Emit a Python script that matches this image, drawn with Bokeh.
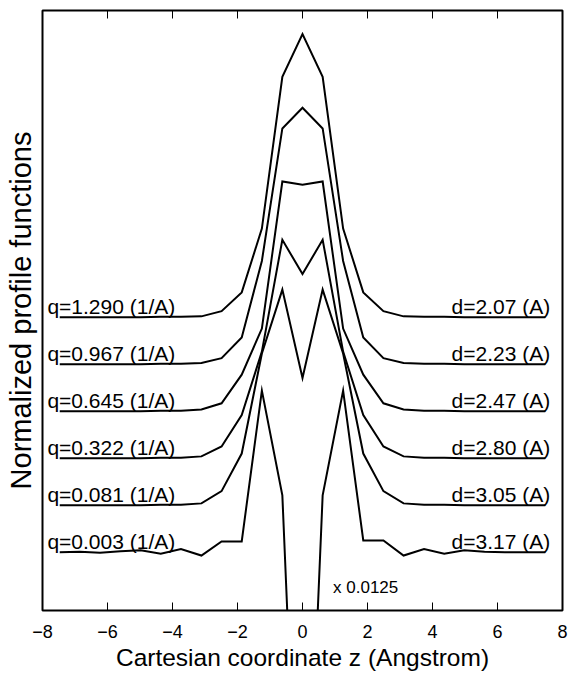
from bokeh.plotting import figure
from bokeh.models import Range1d, LinearAxis, FixedTicker
from bokeh.core.properties import value
from bokeh.embed import file_html
from bokeh.resources import INLINE

# Cartesian coordinate z (Angstrom) of the sampled points
z = [-7.47, -6.85, -6.23, -5.60, -4.98, -4.36, -3.74, -3.11, -2.49, -1.87, -1.25, -0.62,
     0.0, 0.62, 1.25, 1.87, 2.49, 3.11, 3.74, 4.36, 4.98, 5.60, 6.23, 6.85, 7.47]

x_ticks = [-8, -6, -4, -2, 0, 2, 4, 6, 8]
x_tick_labels = ["\u22128", "\u22126", "\u22124", "\u22122", "0", "2", "4", "6", "8"]

q_labels = ["q=0.003 (1/A)", "q=0.081 (1/A)", "q=0.322 (1/A)",
            "q=0.645 (1/A)", "q=0.967 (1/A)", "q=1.290 (1/A)"]
d_labels = ["d=3.17 (A)", "d=3.05 (A)", "d=2.80 (A)",
            "d=2.47 (A)", "d=2.23 (A)", "d=2.07 (A)"]
offsets = [0.0, 1.0, 2.0, 3.0, 4.0, 5.0]

# Normalized profile functions (bottom curve scaled by x 0.0125)
prof_q0003 = [0.00, 0.01, -0.01, 0.02, 0.04, -0.03, 0.07, -0.07, 0.23, 0.23, 3.44, 1.21,
              -8.9, 1.21, 3.44, 0.25, 0.25, -0.07, 0.07, -0.03, 0.04, 0.01, 0.00, 0.00, 0.00]
prof_q0081 = [0.00, 0.00, 0.00, 0.00, 0.00, 0.01, 0.01, 0.04, 0.30, 1.10, 3.23, 4.59,
              2.71, 4.59, 3.23, 1.10, 0.30, 0.04, 0.01, 0.01, 0.00, 0.00, 0.00, 0.00, 0.00]
prof_q0322 = [0.00, 0.00, 0.00, 0.00, 0.00, 0.01, 0.01, 0.04, 0.25, 0.92, 2.27, 4.65,
              3.92, 4.65, 2.27, 0.92, 0.25, 0.04, 0.01, 0.01, 0.00, 0.00, 0.00, 0.00, 0.00]
prof_q0645 = [0.00, 0.00, 0.00, 0.00, 0.00, 0.01, 0.01, 0.04, 0.17, 0.78, 1.76, 4.89,
              4.82, 4.89, 1.76, 0.78, 0.17, 0.04, 0.01, 0.01, 0.00, 0.00, 0.00, 0.00, 0.00]
prof_q0967 = [0.00, 0.00, 0.00, 0.00, 0.00, 0.01, 0.01, 0.03, 0.13, 0.57, 2.20, 5.02,
              5.46, 5.02, 2.20, 0.57, 0.13, 0.03, 0.01, 0.01, 0.00, 0.00, 0.00, 0.00, 0.00]
prof_q1290 = [0.00, 0.00, 0.00, 0.00, 0.00, 0.01, 0.01, 0.02, 0.13, 0.53, 1.89, 5.12,
              6.03, 5.12, 1.89, 0.53, 0.13, 0.02, 0.01, 0.01, 0.00, 0.00, 0.00, 0.00, 0.00]
profiles = [prof_q0003, prof_q0081, prof_q0322, prof_q0645, prof_q0967, prof_q1290]

scale_note = "x 0.0125"

FONT = "Liberation Sans"

p = figure(frame_width=520, frame_height=600,
           x_range=Range1d(-8, 8), y_range=Range1d(-1.24, 11.53),
           output_backend="svg", toolbar_location=None,
           min_border_left=42, min_border_top=10, min_border_right=6, min_border_bottom=0,
           background_fill_color="white", border_fill_color="white")

p.xgrid.visible = False
p.ygrid.visible = False
p.outline_line_color = "black"
p.outline_line_width = 2
p.outline_line_alpha = 1.0

for prof, off in zip(profiles, offsets):
    ys = [v + off for v in prof]
    p.line(z, ys, line_color="black", line_width=2, line_join="miter")

lx = [-7.85] * len(q_labels)
rx = [7.62] * len(d_labels)
ly = [o + 0.22 for o in offsets]
p.text(x=lx, y=ly, text=q_labels, text_font=value(FONT), text_font_size="21px",
       text_align="left", text_baseline="alphabetic", text_color="black")
p.text(x=rx, y=ly, text=d_labels, text_font=value(FONT), text_font_size="21px",
       text_align="right", text_baseline="alphabetic", text_color="black")
p.text(x=[0.94], y=[-0.75], text=[scale_note], text_font=value(FONT), text_font_size="17px",
       text_align="left", text_baseline="alphabetic", text_color="black")

# bottom axis
xa = p.xaxis[0]
xa.ticker = FixedTicker(ticks=x_ticks)
xa.major_label_overrides = {t: l for t, l in zip(x_ticks, x_tick_labels)}
xa.major_tick_in = 8
xa.major_tick_out = 0
xa.major_tick_line_color = "black"
xa.minor_tick_line_color = None
xa.axis_line_color = None
xa.major_label_text_font = FONT
xa.major_label_text_font_size = "18px"
xa.major_label_text_color = "black"
xa.major_label_standoff = 14
xa.axis_label = "Cartesian coordinate z (Angstrom)"
xa.axis_label_text_font = FONT
xa.axis_label_text_font_size = "24.5px"
xa.axis_label_text_font_style = "normal"
xa.axis_label_text_color = "black"
xa.axis_label_standoff = 3

# top axis (ticks only)
ta = LinearAxis(ticker=FixedTicker(ticks=x_ticks),
                major_label_overrides={t: "" for t in x_ticks},
                major_label_text_font_size="0px", major_label_standoff=0,
                major_tick_in=8, major_tick_out=0, major_tick_line_color="black",
                minor_tick_line_color=None, axis_line_color=None)
p.add_layout(ta, "above")

# left axis (label only)
ya = p.yaxis[0]
ya.ticker = FixedTicker(ticks=[])
ya.major_label_text_font_size = "0px"
ya.major_label_standoff = 0
ya.major_tick_line_color = None
ya.minor_tick_line_color = None
ya.axis_line_color = None
ya.axis_label = "Normalized profile functions"
ya.axis_label_text_font = FONT
ya.axis_label_text_font_size = "29px"
ya.axis_label_text_font_style = "normal"
ya.axis_label_text_color = "black"
ya.axis_label_standoff = 6

open("out.html", "w").write(file_html(p, INLINE))
